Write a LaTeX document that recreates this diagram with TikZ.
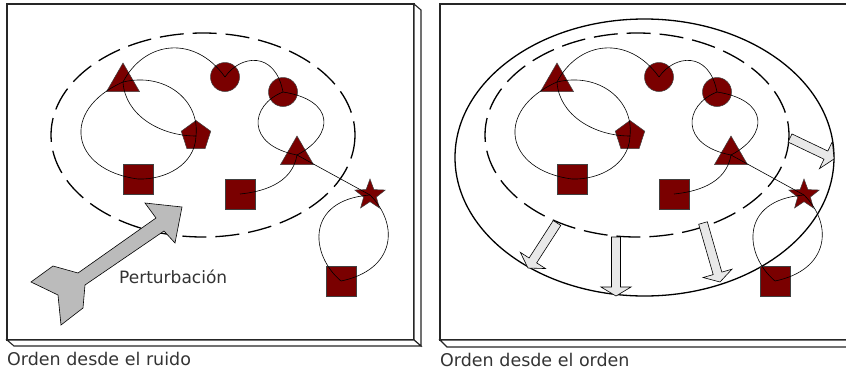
\documentclass[tikz,border=0pt]{standalone}
\usepackage{fontspec}
\setmainfont{DejaVu Sans}
\usetikzlibrary{shapes.geometric,calc}
\definecolor{maroonfill}{RGB}{122,0,0}
\definecolor{lightarrow}{RGB}{232,232,232}
\definecolor{bigarrowfill}{RGB}{187,187,187}
\newcommand{\outarrow}[2]{%
  \coordinate (#1h) at ($(#2)!9pt!(#1)$);
  \draw[lightarr] ($(#1)!4.5pt!90:(#2)$) -- ($(#1h)!4.5pt!-90:(#1)$) -- ($(#1h)!15pt!-90:(#1)$)
    -- (#2) -- ($(#1h)!15pt!90:(#1)$) -- ($(#1h)!4.5pt!90:(#1)$) -- ($(#1)!4.5pt!-90:(#2)$) -- cycle;}
\tikzset{
  shp/.style={draw=black!75, fill=maroonfill, line width=0.5pt, inner sep=0pt, outer sep=0pt},
  shptri/.style={shp, regular polygon, regular polygon sides=3, minimum size=38pt},
  shppent/.style={shp, regular polygon, regular polygon sides=5, minimum size=31pt},
  shpcirc/.style={shp, circle, minimum size=29pt},
  shpsq/.style={shp, rectangle, minimum size=30pt},
  shpstar/.style={shp, star, star points=5, star point ratio=2.4, minimum size=32pt},
  curv/.style={line width=0.6pt, black},
  dashell/.style={line width=1.3pt, dash pattern=on 24pt off 9pt, black},
  frame/.style={line width=1.1pt, draw=black!85},
  lightarr/.style={draw=black, fill=lightarrow, line width=0.6pt, line join=miter},
  bigarr/.style={draw=black, fill=bigarrowfill, line width=0.6pt},
  lbl/.style={inner sep=0pt, anchor=base west, text=black!80, font=\fontsize{17.5}{20}\selectfont},
  cluster/.pic={
    \draw[dashell] (203,135) ellipse [x radius=152, y radius=102];
    \node[shptri] (-t1) at (123,82) {};
    \node[shpcirc] (-c1) at (225,77) {};
    \node[shpcirc] (-c2) at (283,92) {};
    \node[shppent] (-p) at (196,136) {};
    \node[shpsq] (-s1) at (138,179) {};
    \node[shpsq] (-s2) at (240,194) {};
    \node[shptri] (-t2) at (297,155) {};
    \node[shpstar] (-st) at (370,195) {};
    \node[shpsq] (-s3) at (341,281) {};
    \draw[curv] (-t1.center) .. controls (145,40) and (195,35) .. (-c1.center);
    \draw[curv] (-t1.center) .. controls (60,110) and (70,170) .. (-s1.center);
    \draw[curv] (-t1.center) .. controls (165,72) and (200,100) .. (-p.center);
    \draw[curv] (-t1.center) .. controls (125,115) and (160,136) .. (-p.center);
    \draw[curv] (-p.center) .. controls (195,165) and (165,180) .. (-s1.center);
    \draw[curv] (-c1.center) .. controls (240,55) and (275,50) .. (-c2.center);
    \draw[curv] (-c2.center) .. controls (335,100) and (335,135) .. (-t2.center);
    \draw[curv] (-c2.center) .. controls (250,105) and (245,145) .. (-t2.center);
    \draw[curv] (-t2.center) .. controls (292,185) and (260,192) .. (-s2.center);
    \draw[curv] (-t2.center) -- (-st.center);
    \draw[curv] (-st.center) .. controls (305,200) and (310,255) .. (-s3.center);
    \draw[curv] (-st.center) .. controls (400,225) and (395,270) .. (-s3.center);
  }
}
\begin{document}
\begin{tikzpicture}[x=1pt,y=-1pt]
\useasboundingbox (0,0) rectangle (846,370);
\clip (0,0) rectangle (846,370);
% left panel
\draw[frame, fill=white] (7,4) rectangle (414,340);
\draw[frame, fill=white] (414,4) -- (421,10) -- (421,346) -- (414,340) -- cycle;
\draw[frame, fill=white] (7,340) -- (14,346) -- (421,346) -- (414,340) -- cycle;
% right panel
\draw[frame, fill=white] (440,4) rectangle (870,340);
\draw[frame, fill=white] (440,340) -- (447,347) -- (870,347) -- (870,340) -- cycle;
% contents
\pic (L) at (0,0) {cluster};
\draw[line width=1.3pt] (644.5,157.5) ellipse [x radius=189.5, y radius=138.5];
\pic (R) at (434,0) {cluster};
% perturbation arrow
\draw[bigarr] (145,203) -- (182,207) -- (175,243) -- (164,231) -- (85,285) -- (83,308)
  -- (61,325) -- (58,295) -- (31,282) -- (53,266) -- (78,273) -- (156,218) -- cycle;
\node[lbl, font=\fontsize{17}{19}\selectfont] (pert) at (119,283) {Perturbación};
% outward arrows
\coordinate (a1) at (557,223); \coordinate (b1) at (528,268);
\coordinate (a2) at (616,237); \coordinate (b2) at (616,296);
\coordinate (a3) at (703,223); \coordinate (b3) at (720,282);
\coordinate (a4) at (790,138); \coordinate (b4) at (834,159);
\outarrow{a1}{b1}
\outarrow{a2}{b2}
\outarrow{a3}{b3}
\outarrow{a4}{b4}
% labels
\node[lbl] (lab1) at (7,365) {Orden desde el ruido};
\node[lbl] (lab2) at (440,366) {Orden desde el orden};
\end{tikzpicture}
\end{document}
